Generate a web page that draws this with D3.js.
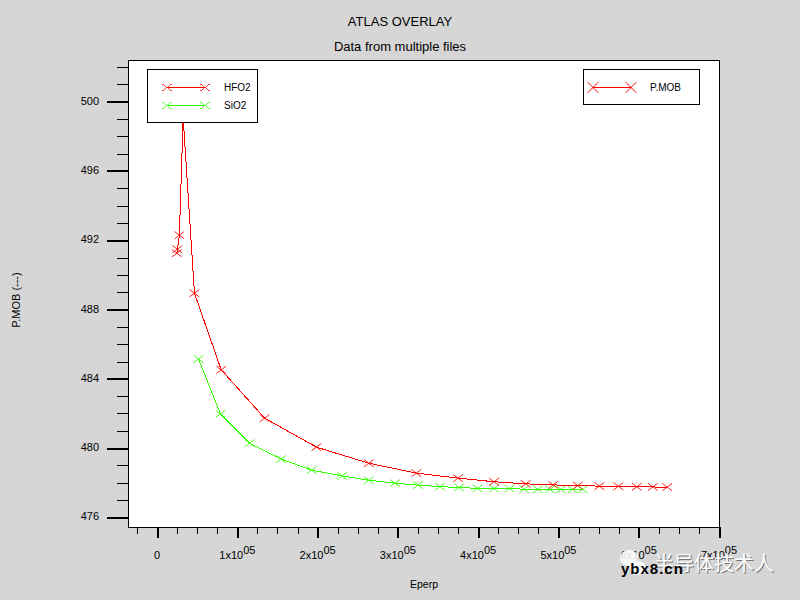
<!DOCTYPE html>
<html>
<head>
<meta charset="utf-8">
<script src="https://cdn.jsdelivr.net/npm/d3@7"></script>
<style>
html, body { margin: 0; padding: 0; background: #d6d6d6; }
svg { display: block; font-family: "Liberation Sans", Arial, sans-serif; fill: #000; }
.axis path { display: none; }
.axis line { stroke: #000; shape-rendering: crispEdges; }
.axis .major line { stroke-width: 2; }
.axis text { display: none; }
.lbl { font-size: 10px; }
.tick-lbl { font-size: 11px; }
.frame { stroke: #000; shape-rendering: crispEdges; }
</style>
</head>
<body>
<svg id="chart" width="800" height="600"></svg>
<script>
const hfo2X = [24600, 25300, 27800, 32500, 46600, 79900, 134000, 198500, 263800, 323000, 374900, 419800, 459400, 493500, 524000, 550900, 574700, 597600, 617600, 635500];
const hfo2Y = [491.25, 491.48, 492.29, 499.06, 488.94, 484.52, 481.73, 480.06, 479.13, 478.56, 478.27, 478.06, 477.94, 477.88, 477.84, 477.81, 477.80, 477.77, 477.76, 477.75];
const sio2X = [51600, 79000, 115200, 154400, 192600, 230600, 263800, 296300, 325000, 352400, 376200, 399100, 419800, 439100, 457300, 474400, 489400, 503100, 517700, 530200];
const sio2Y = [485.14, 481.98, 480.29, 479.37, 478.73, 478.40, 478.15, 477.98, 477.87, 477.78, 477.73, 477.68, 477.67, 477.67, 477.63, 477.62, 477.62, 477.62, 477.62, 477.62];

const xMajor = [0, 100000, 200000, 300000, 400000, 500000, 600000, 700000];
const xMajorLabels = ['0', '1x10', '2x10', '3x10', '4x10', '5x10', '6x10', '7x10'];
const xMinor = [-25000, 25000, 50000, 75000, 125000, 150000, 175000, 225000, 250000, 275000, 325000, 350000, 375000, 425000, 450000, 475000, 525000, 550000, 575000, 625000, 650000, 675000];
const yMajor = [476, 480, 484, 488, 492, 496, 500];
const yMinor = [477, 478, 479, 481, 482, 483, 485, 486, 487, 489, 490, 491, 493, 494, 495, 497, 498, 499, 501, 502];

const RED = '#ff0000';
const GREEN = '#33ff00';

const svg = d3.select('#chart');
const box = { left: 128, right: 719, top: 60, bottom: 527 };

const xScale = d3.scaleLinear()
    .domain([-36200, 700000])
    .range([box.left, box.right]);
const yScale = d3.scaleLinear()
    .domain([475.45, 502.4])
    .range([box.bottom, box.top]);

svg.append('rect')
    .attr('class', 'frame')
    .attr('x', box.left).attr('y', box.top)
    .attr('width', box.right - box.left).attr('height', box.bottom - box.top)
    .attr('fill', '#fff').attr('stroke-width', 1);

// axes, minor and major ticks drawn as separate passes
const xAxisG = svg.append('g').attr('class', 'axis').attr('transform', `translate(0,${box.bottom})`);
xAxisG.append('g').call(d3.axisBottom(xScale).tickValues(xMinor).tickSizeOuter(0).tickSize(7).tickFormat(''));
xAxisG.append('g').attr('class', 'major').call(d3.axisBottom(xScale).tickValues(xMajor).tickSizeOuter(0).tickSize(11).tickFormat(''));

const yAxisG = svg.append('g').attr('class', 'axis').attr('transform', `translate(${box.left},0)`);
yAxisG.append('g').call(d3.axisLeft(yScale).tickValues(yMinor).tickSizeOuter(0).tickSize(11).tickFormat(''));
yAxisG.append('g').attr('class', 'major').call(d3.axisLeft(yScale).tickValues(yMajor).tickSizeOuter(0).tickSize(21).tickFormat(''));

// tick labels, x10^05 style
svg.selectAll('.xlab').data(xMajor).enter().append('text')
    .attr('class', 'tick-lbl xlab')
    .attr('x', d => xScale(d))
    .attr('y', 559)
    .attr('text-anchor', 'middle')
    .each(function (d, i) {
        const t = d3.select(this);
        t.append('tspan').text(xMajorLabels[i]);
        if (d !== 0) {
            t.append('tspan').attr('dy', -5).text('05');
        }
    });

svg.selectAll('.ylab').data(yMajor).enter().append('text')
    .attr('class', 'tick-lbl ylab')
    .attr('x', 99)
    .attr('y', d => yScale(d) + 3)
    .attr('text-anchor', 'end')
    .text(d => d);

svg.append('text').attr('x', 400).attr('y', 26).attr('text-anchor', 'middle').attr('font-size', 13).text('ATLAS OVERLAY');
svg.append('text').attr('x', 400).attr('y', 51).attr('text-anchor', 'middle').attr('font-size', 13).text('Data from multiple files');
svg.append('text').attr('x', 424).attr('y', 588).attr('text-anchor', 'middle').attr('font-size', 10.5).text('Eperp');
svg.append('text').attr('font-size', 11)
    .attr('transform', 'translate(20,300) rotate(-90)')
    .attr('text-anchor', 'middle').text('P.MOB (---)');

const marker = d3.symbol().type(d3.symbolTimes).size(64);
const line = d3.line().x(d => xScale(d[0])).y(d => yScale(d[1]));

const drawSeries = (xs, ys, color) => {
    const pts = d3.zip(xs, ys);
    const g = svg.append('g');
    g.append('path').datum(pts)
        .attr('d', line)
        .attr('fill', 'none')
        .attr('stroke', color)
        .attr('stroke-width', 1)
        .attr('shape-rendering', 'crispEdges');
    g.selectAll('path.m').data(pts).enter().append('path')
        .attr('class', 'm')
        .attr('d', marker)
        .attr('transform', d => `translate(${xScale(d[0])},${yScale(d[1])}) scale(1,0.75)`)
        .attr('fill', 'none')
        .attr('stroke', color)
        .attr('stroke-width', 1)
        .attr('shape-rendering', 'crispEdges');
};

drawSeries(sio2X, sio2Y, GREEN);
drawSeries(hfo2X, hfo2Y, RED);

// legends
const legendBox = (x, y, w, h) => svg.append('rect').attr('class', 'frame')
    .attr('x', x).attr('y', y).attr('width', w).attr('height', h)
    .attr('fill', '#fff').attr('stroke-width', 1);

const legendEntry = (x1, x2, y, color, label, tx, sx, sy, edge) => {
    svg.append('line').attr('x1', x1).attr('x2', x2).attr('y1', y).attr('y2', y)
        .attr('stroke', color).attr('shape-rendering', 'crispEdges');
    [x1, x2].forEach(x => {
        svg.append('path').attr('d', marker)
            .attr('transform', `translate(${x},${y}) scale(${sx},${sy})`)
            .attr('fill', 'none').attr('stroke', color).attr('stroke-width', 0.9)
            .attr('shape-rendering', edge);
    });
    svg.append('text').attr('class', 'lbl').attr('x', tx).attr('y', y + 3.5).text(label);
};

legendBox(147.5, 69.5, 110, 53);
legendEntry(167, 205, 87.5, RED, 'HFO2', 224, 1, 0.75, 'crispEdges');
legendEntry(167, 205, 105.5, GREEN, 'SiO2', 224, 1, 0.75, 'crispEdges');

legendBox(583.5, 69.5, 116, 34.5);
legendEntry(593, 631, 87.5, RED, 'P.MOB', 650, 1.1, 1.1, 'auto');

// watermark sits over the x labels in the original
const wm = svg.append('g');
wm.append('ellipse').attr('cx', 629).attr('cy', 558).attr('rx', 9).attr('ry', 8).attr('fill', '#fff').attr('fill-opacity', 0.85);
wm.append('ellipse').attr('cx', 638).attr('cy', 568).attr('rx', 8).attr('ry', 7).attr('fill', '#fff').attr('fill-opacity', 0.85);
wm.append('text').attr('x', 655).attr('y', 572)
    .attr('font-family', '"Noto Sans CJK SC"').attr('font-size', 20)
    .attr('fill', '#777')
    .text('半导体技术人');
wm.append('text').attr('x', 654).attr('y', 571)
    .attr('font-family', '"Noto Sans CJK SC"').attr('font-size', 20)
    .attr('fill', '#fff')
    .text('半导体技术人');
wm.append('text').attr('x', 621).attr('y', 574)
    .attr('font-size', 15).attr('font-weight', 'bold').attr('fill', '#000')
    .attr('letter-spacing', 1)
    .text('ybx8.cn');
</script>
</body>
</html>
